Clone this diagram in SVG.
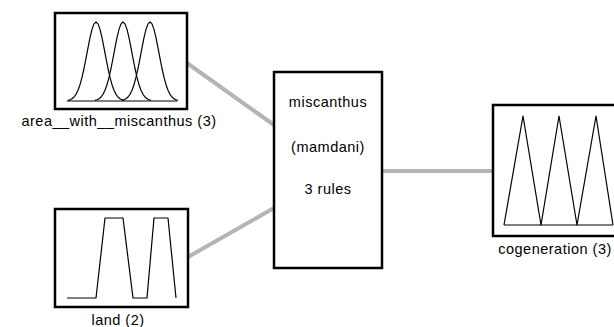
<svg xmlns="http://www.w3.org/2000/svg" width="614" height="327" viewBox="0 0 614 327">
  <style>
    .box { fill: #ffffff; stroke: #000000; stroke-width: 2.5; }
    .mf { fill: none; stroke: #000000; stroke-width: 1.2; stroke-linejoin: round; }
    .wire { stroke: #b4b4b4; stroke-width: 4; fill: none; }
    .lbl { font-family: "Liberation Sans", Arial, sans-serif; font-size: 14.5px; letter-spacing: 0.5px; fill: #000000; text-anchor: middle; }
  </style>
  <defs>
    <!-- one gaussian membership function, centred on x=0 -->
    <path id="gauss" class="mf" d="M-28,100.4 L-26,99.8 -24,98.7 -22,97 -20,94.3 -18,90.3 -16,84.7 -14,77.4 -12,68.5 -10,58.4 -8,47.8 -6,37.7 -4,29.4 -2,23.9 0,22 2,23.9 4,29.4 6,37.7 8,47.8 10,58.4 12,68.5 14,77.4 16,84.7 18,90.3 20,94.3 22,97 24,98.7 26,99.8 28,100.4"/>
  </defs>

  <g id="connectors">
    <line class="wire" x1="187" y1="63" x2="274" y2="125"/>
    <line class="wire" x1="188" y1="257" x2="274" y2="208"/>
    <line class="wire" x1="382" y1="171" x2="493" y2="171"/>
  </g>

  <g id="input-area">
    <rect class="box" x="55" y="13" width="132" height="96"/>
    <line class="mf" x1="67" y1="101" x2="177" y2="101"/>
    <use href="#gauss" x="96"/>
    <use href="#gauss" x="123"/>
    <use href="#gauss" x="150"/>
    <text class="lbl" x="119" y="126">area__with__miscanthus (3)</text>
  </g>

  <g id="input-land">
    <rect class="box" x="55" y="209" width="133" height="98"/>
    <polyline class="mf" points="67,298 96,298 105,218 123,218 133,298 147,298 154,218 168,218 176,298"/>
    <text class="lbl" x="118" y="325">land (2)</text>
  </g>

  <g id="system">
    <rect class="box" x="274" y="72" width="108" height="196"/>
    <text class="lbl" x="328" y="107">miscanthus</text>
    <text class="lbl" x="328" y="152">(mamdani)</text>
    <text class="lbl" x="328" y="194">3 rules</text>
  </g>

  <g id="output-cogeneration">
    <rect class="box" x="493" y="105" width="132" height="131"/>
    <polyline class="mf" points="504,225 523,116 541,225 559,116 577,225 596,116 613,225"/>
    <line class="mf" x1="504" y1="225" x2="613" y2="225"/>
    <text class="lbl" x="555" y="254">cogeneration (3)</text>
  </g>
</svg>
